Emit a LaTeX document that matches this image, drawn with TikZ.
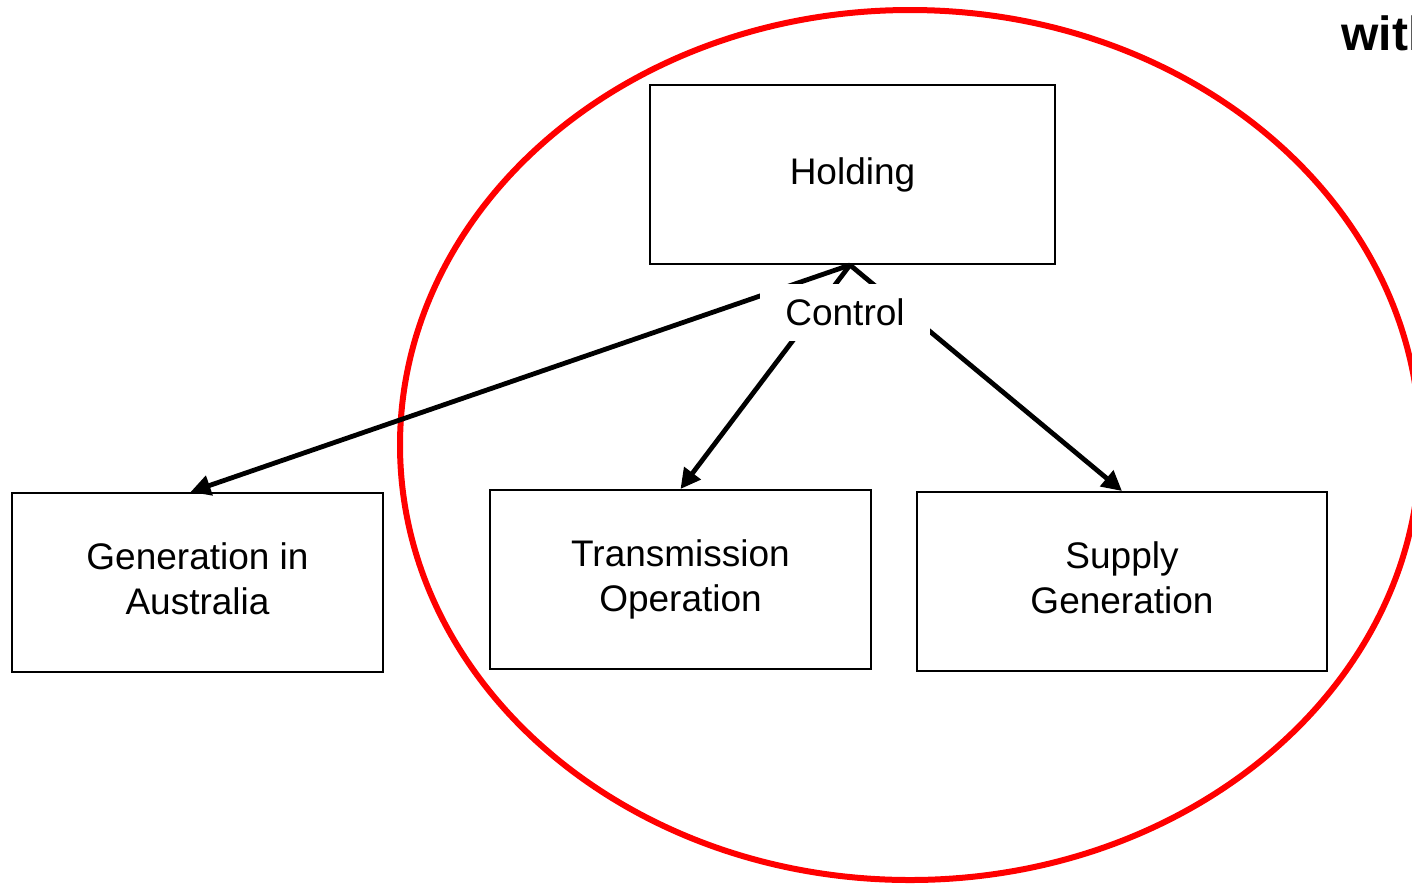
\documentclass[tikz,border=0pt]{standalone}
\usepackage{fontspec}
\setmainfont{Liberation Sans}
\usetikzlibrary{arrows.meta}
\begin{document}
\begin{tikzpicture}[x=0.5pt,y=-0.5pt,
  box/.style={draw=black,line width=1pt,fill=white,minimum height=89.5pt,align=center,
    font=\fontsize{18.5pt}{22.5pt}\selectfont,inner sep=0pt},
  link/.style={line width=2.4pt,-{Triangle[length=10pt,width=10pt]}},
  lbl/.style={fill=white,font=\fontsize{18.5pt}{22.5pt}\selectfont,minimum width=85pt,minimum height=28.5pt,inner sep=0pt}]
\useasboundingbox (0,0) rectangle (1412,885);
\clip (0,0) rectangle (1412,885);
\draw[red,line width=3pt] (910,445) ellipse [x radius=255pt,y radius=217.5pt];
\node[box,minimum width=202.5pt] (hold) at (852.5,174.5) {Holding};
\node[box,minimum width=185.5pt] (aus) at (197.5,582.5) {Generation in\\Australia\rule[-4pt]{0pt}{0pt}};
\node[box,minimum width=190.5pt] (trans) at (680.5,579.5) {Transmission\\Operation};
\node[box,minimum width=205pt] (sup) at (1122,581.5) {Supply\\Generation\rule[-4pt]{0pt}{0pt}};
\coordinate (src) at (850,265);
\draw[link] (src) -- ([xshift=-3.5pt]aus.north);
\draw[link] (src) -- (trans.north);
\draw[link] (src) -- (sup.north);
\node[lbl] (ctrl) at (845,312) {Control};
\node[anchor=base west,font=\fontsize{24pt}{28pt}\selectfont\bfseries,inner sep=0pt] (wit) at (1341,50) {with};
\end{tikzpicture}
\end{document}
